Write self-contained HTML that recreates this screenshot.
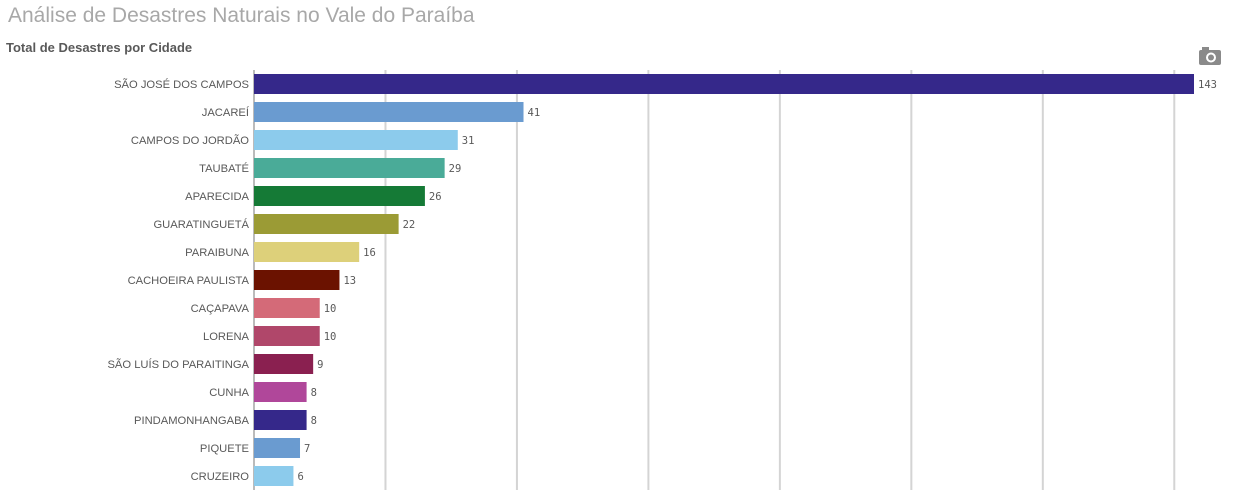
<!DOCTYPE html>
<html><head><meta charset="utf-8">
<style>
body{margin:0;width:1251px;height:494px;background:#fff;overflow:hidden;font-family:"Liberation Sans",sans-serif;position:relative}
#title{position:absolute;left:8px;top:4px;font-size:21px;color:#a8a8a8}
#sub{position:absolute;left:6px;top:40px;font-size:13px;font-weight:bold;color:#595959}
#cam{position:absolute;left:1199px;top:47px}
</style></head><body>
<div id="title">Análise de Desastres Naturais no Vale do Paraíba</div>
<div id="sub">Total de Desastres por Cidade</div>
<svg id="cam" width="22" height="18" viewBox="0 0 22 18">
<rect x="0" y="3" width="22" height="15" rx="2" fill="#8a8a8a"/><rect x="3" y="0" width="7" height="4" fill="#8a8a8a"/>
<circle cx="12" cy="10.5" r="5" fill="#fff"/><circle cx="12" cy="10.5" r="3" fill="#8a8a8a"/></svg>
<svg id="chart" width="1251" height="494" style="position:absolute;left:0;top:0"></svg>
<script>
const cities=["SÃO JOSÉ DOS CAMPOS","JACAREÍ","CAMPOS DO JORDÃO","TAUBATÉ","APARECIDA","GUARATINGUETÁ","PARAIBUNA","CACHOEIRA PAULISTA","CAÇAPAVA","LORENA","SÃO LUÍS DO PARAITINGA","CUNHA","PINDAMONHANGABA","PIQUETE","CRUZEIRO"];
const values=[143,41,31,29,26,22,16,13,10,10,9,8,8,7,6];
const colors=["#35288a","#6a9bd0","#8ccbec","#4aab98","#157a36","#9b9b35","#ddd07a","#6b1200","#d46a78","#b0476a","#8a2050","#b0479a","#35288a","#6a9bd0","#8ccbec"];
const gridTicks=[0,20,40,60,80,100,120,140];
const NS="http://www.w3.org/2000/svg";
const svg=document.getElementById('chart');
const x0=254,scale=940/143,y0=70,step=28,bh=20;
const X=v=>x0+v*scale, Y=i=>y0+i*step+(step-bh)/2;
function mk(t,a){const e=document.createElementNS(NS,t);for(const k in a)e.setAttribute(k,a[k]);svg.appendChild(e);return e;}
gridTicks.forEach(t=>{
 const l=mk('line',{x1:X(t),x2:X(t),y1:y0,y2:490,stroke:t===0?'#bbb':'#d4d4d4','stroke-width':2});
 
 
});
values.forEach((v,i)=>{
 const r=mk('rect',{x:x0,y:Y(i),width:v*scale,height:bh,fill:colors[i]});
 
 
 const lab=mk('text',{x:249,y:Y(i)+bh/2+4,'text-anchor':'end','font-size':11.2,fill:'#595959','font-family':'Liberation Sans, sans-serif'});
 lab.textContent=cities[i];
 
 
 const vl=mk('text',{x:X(v)+4,y:Y(i)+bh/2+4,'font-size':10.5,fill:'#595959','font-family':'DejaVu Sans Mono, monospace'});
 vl.textContent=v;
 
 
});
</script>
</body></html>
